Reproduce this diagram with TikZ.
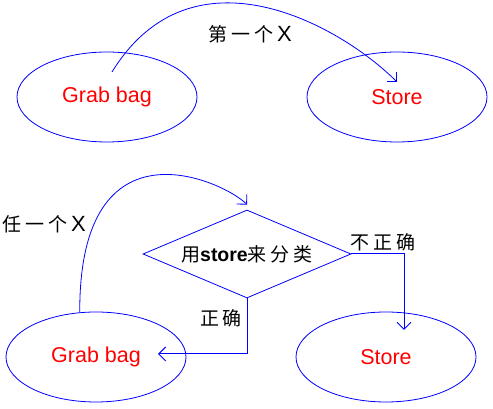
\documentclass[tikz,border=0pt]{standalone}
\usepackage{fontspec}
\setmainfont{Liberation Sans}
\newfontfamily\cjk{Noto Sans CJK SC}
\usetikzlibrary{shapes.geometric,arrows.meta}
\newcommand{\gap}{\hspace{4pt}}
\newcommand{\bigx}{{\rmfamily\fontsize{22}{22}\selectfont X}}
\begin{document}
\begin{tikzpicture}[
    x=1pt, y=1pt,
    node distance=290pt,
    bag/.style={ellipse, draw=blue, line width=0.8pt, inner sep=0pt, minimum width=180pt, minimum height=90pt, text=red, font=\fontsize{21.5}{22}\selectfont},
    choice/.style={diamond, draw=blue, line width=0.8pt, inner sep=0pt, aspect=2.36, minimum width=208pt, minimum height=88pt, font=\fontsize{19.5}{20}\selectfont},
    lbl/.style={inner sep=0pt, font=\cjk\fontsize{19}{20}\selectfont},
    arc/.style={-{Straight Barb[length=7pt,width=14pt]}, draw=blue, line width=0.8pt},
    arrow/.style={-{Straight Barb[length=7pt,width=14pt]}, draw=blue, line width=1pt}
]
    \useasboundingbox (0,0) rectangle (493,409);

    % Top row
    \node[bag] (bag1) at (107,312) {Grab bag};
    \node[bag, right of=bag1] (store1) {Store};
    \node[lbl] (first) at (250,375) {第\gap 一\gap 个\gap\bigx};

    % Bottom row
    \node[bag] (bag2) at (96,52) {Grab bag};
    \node[bag, right of=bag2] (store2) {Store};
    \node[choice] (sort) at (247,155) {{\cjk\fontsize{19}{20}\selectfont 用}\textbf{store}{\cjk\fontsize{19}{20}\selectfont 来\gap 分\gap 类}};

    % Labels
    \node[lbl] (any) at (44,185) {任\gap 一\gap 个\gap\bigx};
    \node[lbl] (wrong) at (383,167) {不\gap 正\gap 确};
    \node[lbl] (right) at (221,91) {正\gap 确};

    % Free ends
    \coordinate (start1) at (112,337);
    \coordinate (tipR) at (404,79);
    \coordinate (tipL) at (158,55);

    % Arcs
    \draw[arc] (start1) .. controls (192,467) and (340,384) .. (397,327);
    \draw[arc] (bag2.110) .. controls (79,296) and (225,227) .. ([yshift=5pt]sort.north);

    % Arrows from the choice
    \draw[arrow] (sort.east) -| (tipR);
    \draw[arrow] (sort.south) |- (tipL);

\end{tikzpicture}
\end{document}
